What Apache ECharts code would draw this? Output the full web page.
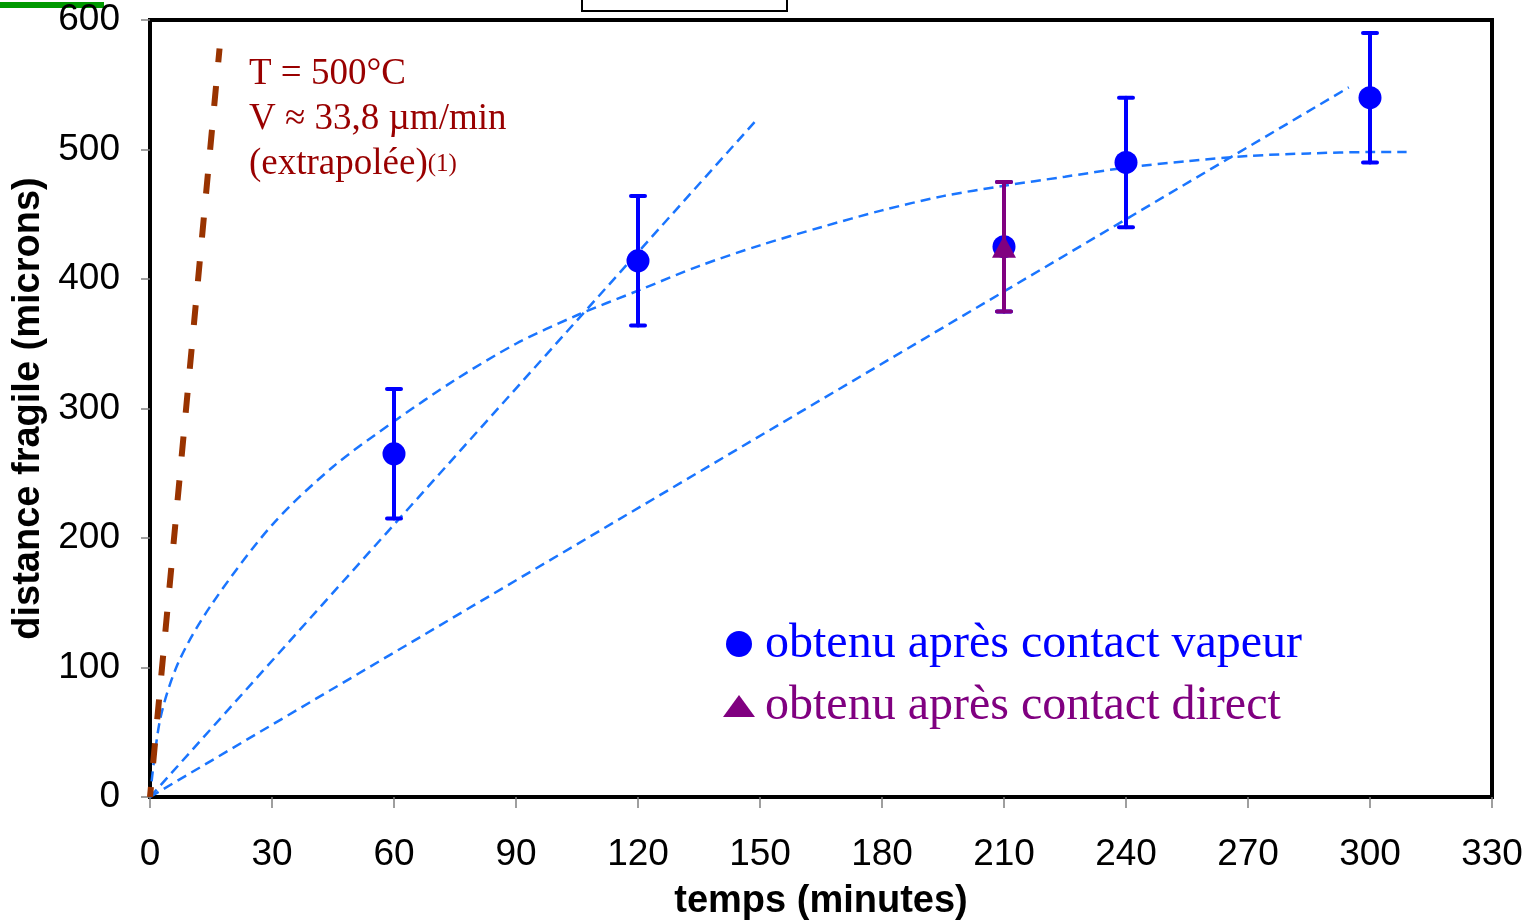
<!DOCTYPE html>
<html>
<head>
<meta charset="utf-8">
<script src="https://cdn.jsdelivr.net/npm/echarts@6/dist/echarts.min.js"></script>
<style>
html,body{margin:0;padding:0;background:#fff;}
#chart{width:1530px;height:922px;}
</style>
</head>
<body>
<div id="chart"></div>
<script>
// ---- data ----
const timeVapeur = [60, 120, 210, 240, 300];
const distVapeur = [265, 414, 425, 490, 540];
const errVapeur = [50, 50, 50, 50, 50];

const timeDirect = [210];
const distDirect = [425];
const errDirect = [50];

// extrapolated line at 500°C (V ≈ 33.8 µm/min)
const extrapolTime = [0, 17.1];
const extrapolDist = [0, 578];

// dashed trend lines
const fitLin1Time = [0, 149.2];
const fitLin1Dist = [0, 523];
const fitLin2Time = [0, 294.8];
const fitLin2Dist = [0, 548];
const fitCurveTime = [0, 2.5, 7, 15, 30, 45, 60, 75, 90, 105, 120, 135, 150, 165, 180, 195, 210, 225, 240, 255, 270, 285, 300, 309];
const fitCurveDist = [0, 60, 104, 148, 210, 255, 290, 322, 350, 372, 391, 410, 426, 440, 453, 464, 472, 479, 486, 491, 495, 497, 498, 498];

const xTickInterval = 30;
const yTickInterval = 100;

const nameVapeur = 'obtenu après contact vapeur';
const nameDirect = 'obtenu après contact direct';

// ---- build ----
const zip = (a, b) => a.map((v, i) => [v, b[i]]);
const errData = (t, d, e) => t.map((v, i) => [v, d[i] - e[i], d[i] + e[i]]);

function errRender(color) {
  return function (params, api) {
    const x = api.value(0), lo = api.value(1), hi = api.value(2);
    const pHi = api.coord([x, hi]);
    const pLo = api.coord([x, lo]);
    const hw = 7;
    const st = { stroke: color, lineWidth: 4, lineCap: 'round' };
    return {
      type: 'group',
      children: [
        { type: 'line', shape: { x1: pHi[0], y1: pHi[1], x2: pLo[0], y2: pLo[1] }, style: st },
        { type: 'line', shape: { x1: pHi[0] - hw, y1: pHi[1], x2: pHi[0] + hw, y2: pHi[1] }, style: st },
        { type: 'line', shape: { x1: pLo[0] - hw, y1: pLo[1], x2: pLo[0] + hw, y2: pLo[1] }, style: st }
      ]
    };
  };
}

const blueDash = { color: '#1a75ff', width: 2.5, type: [10, 6] };
const serif = 'Liberation Serif, Times New Roman, serif';
const sans = 'Liberation Sans, Arial, sans-serif';

const chart = echarts.init(document.getElementById('chart'), null, { renderer: 'canvas' });
chart.setOption({
  animation: false,
  backgroundColor: '#fff',
  grid: { left: 150, right: 38, top: 20, bottom: 125, show: true, borderColor: '#000', borderWidth: 4, backgroundColor: 'transparent', containLabel: false, outerBoundsMode: 'none' },
  xAxis: {
    type: 'value', min: 0, max: 330, interval: xTickInterval,
    name: 'temps (minutes)', nameLocation: 'middle', nameGap: 86,
    nameTextStyle: { fontFamily: sans, fontWeight: 'bold', fontSize: 38, color: '#000' },
    axisLine: { show: true, lineStyle: { color: '#000', width: 4 } },
    axisTick: { show: true, length: 11, lineStyle: { color: '#808080', width: 1.5 } },
    axisLabel: { margin: 39, fontFamily: sans, fontSize: 37, color: '#000' },
    splitLine: { show: false }
  },
  yAxis: {
    type: 'value', min: 0, max: 600, interval: yTickInterval,
    name: 'distance fragile (microns)', nameLocation: 'middle', nameGap: 100, nameRotate: 90,
    nameTextStyle: { fontFamily: sans, fontWeight: 'bold', fontSize: 38, color: '#000' },
    axisLine: { show: true, lineStyle: { color: '#000', width: 4 } },
    axisTick: { show: true, length: 9, lineStyle: { color: '#808080', width: 1.5 } },
    axisLabel: { margin: 30, fontFamily: sans, fontSize: 37, color: '#000' },
    splitLine: { show: false }
  },
  legend: {
    orient: 'vertical', left: 723, top: 619, itemGap: 12, padding: 0,
    itemWidth: 32, itemHeight: 26, symbolKeepAspect: true,
    textStyle: { fontFamily: serif, fontSize: 48, lineHeight: 50, padding: [0, 0, 0, 5] },
    data: [
      { name: nameVapeur, icon: 'circle', textStyle: { color: '#0000ff' } },
      { name: nameDirect, icon: 'path://M0,22 L16,0 L32,22 Z', textStyle: { color: '#800080' } }
    ]
  },
  series: [
    { type: 'line', name: 'extrapol', data: zip(extrapolTime, extrapolDist), showSymbol: false, silent: true, z: 3,
      lineStyle: { color: '#993300', width: 6, type: [20, 24], dashOffset: 10 } },
    { type: 'line', name: 'fit1', data: zip(fitLin1Time, fitLin1Dist), showSymbol: false, silent: true, z: 2, lineStyle: blueDash },
    { type: 'line', name: 'fit2', data: zip(fitLin2Time, fitLin2Dist), showSymbol: false, silent: true, z: 2, lineStyle: blueDash },
    { type: 'line', name: 'fit3', data: zip(fitCurveTime, fitCurveDist), showSymbol: false, silent: true, z: 2, smooth: 0.3, lineStyle: blueDash },
    { type: 'custom', name: 'errV', data: errData(timeVapeur, distVapeur, errVapeur), renderItem: errRender('#0000ff'), encode: { x: 0, y: [1, 2] }, z: 4, silent: true },
    { type: 'scatter', name: nameVapeur, data: zip(timeVapeur, distVapeur), symbol: 'circle', symbolSize: 23, itemStyle: { color: '#0000ff', opacity: 1 }, z: 5 },
    { type: 'custom', name: 'errD', data: errData(timeDirect, distDirect, errDirect), renderItem: errRender('#800080'), encode: { x: 0, y: [1, 2] }, z: 6, silent: true },
    { type: 'scatter', name: nameDirect, data: zip(timeDirect, distDirect), symbol: 'triangle', symbolSize: [24, 22], itemStyle: { color: '#800080', opacity: 1 }, z: 7 }
  ],
  graphic: [
    { type: 'rect', left: 0, top: 2, shape: { width: 104, height: 6 }, style: { fill: '#009900' } },
    { type: 'rect', left: 581, top: -6, shape: { width: 205, height: 16 }, style: { fill: '#fff', stroke: '#000', lineWidth: 2 } },
    { type: 'text', left: 249, top: 56, z: 10,
      style: {
        text: '{a|T = 500°C}\n{a|V ≈ 33,8 µm/min}\n{a|(extrapolée)}{b|(1)}',
        fill: '#990000',
        rich: {
          a: { fontFamily: serif, fontSize: 37, fill: '#990000', color: '#990000', lineHeight: 45 },
          b: { fontFamily: serif, fontSize: 25, fill: '#990000', color: '#990000', lineHeight: 45 }
        }
      }
    }
  ]
});
</script>
</body>
</html>
